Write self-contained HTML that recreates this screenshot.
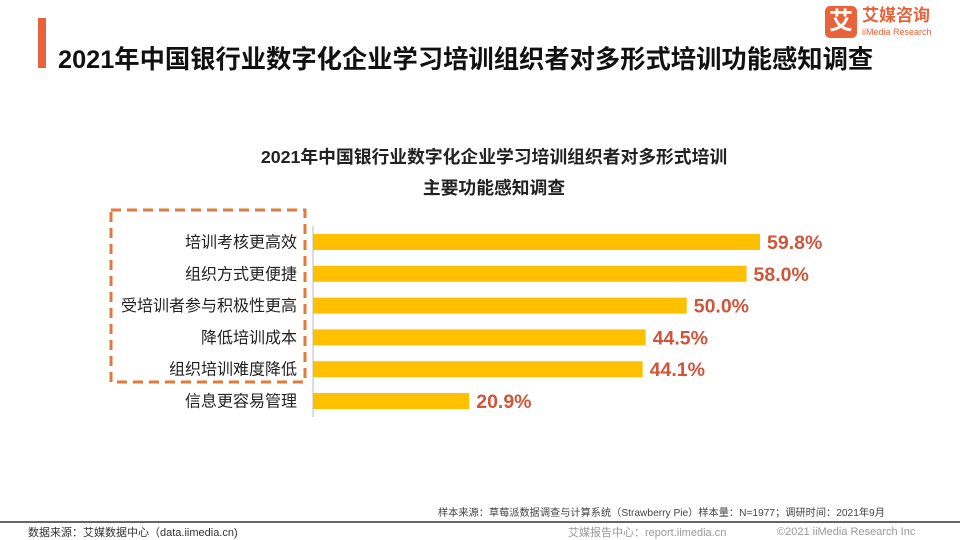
<!DOCTYPE html>
<html><head><meta charset="utf-8"><style>
body{margin:0;width:960px;height:540px;background:#fff;position:relative;overflow:hidden;font-family:"Liberation Sans","Noto Sans CJK SC",sans-serif}
.a{position:absolute;white-space:nowrap}
</style></head><body>
<div class="a" style="left:38px;top:18px;width:8px;height:50px;background:#E8633A"></div>
<div class="a" style="left:58px;top:45px;font-size:25.3px;font-weight:bold;color:#111;line-height:30px">2021年中国银行业数字化企业学习培训组织者对多形式培训功能感知调查</div>
<div class="a" style="left:825px;top:6px;width:32px;height:32px;background:#E8633A;border-radius:5px;color:#fff;font-size:24px;font-weight:bold;text-align:center;line-height:32px">艾</div>
<div class="a" style="left:862px;top:6px;color:#E8633A;font-size:17px;font-weight:bold;line-height:20px">艾媒咨询</div>
<div class="a" style="left:862px;top:27px;color:#E8633A;font-size:9px;line-height:10px">iiMedia Research</div>
<div class="a" style="left:0;width:988px;top:142px;text-align:center;font-size:17.8px;font-weight:bold;color:#222;line-height:31px">2021年中国银行业数字化企业学习培训组织者对多形式培训<br>主要功能感知调查</div>
<svg class="a" style="left:0;top:0" width="960" height="540" id="chart">
<rect x="111" y="210" width="194" height="172" fill="none" stroke="#E07B39" stroke-width="3" stroke-dasharray="10,6"/>
<line x1="313" y1="226" x2="313" y2="417" stroke="#bbb"/>
</svg>
<div class="a" style="left:438px;top:504px;font-size:10.2px;color:#444">样本来源：草莓派数据调查与计算系统（Strawberry Pie）样本量：N=1977；调研时间：2021年9月</div>
<div class="a" style="left:0;top:521px;width:960px;height:2px;background:#666"></div>
<div class="a" style="left:28px;top:524px;font-size:11px;color:#333">数据来源：艾媒数据中心（data.iimedia.cn)</div>
<div class="a" style="left:568px;top:524px;font-size:11px;color:#999">艾媒报告中心：report.iimedia.cn</div>
<div class="a" style="left:777px;top:526px;font-size:11px;color:#999">©2021  iiMedia Research  Inc</div>
<script>
const categories=["培训考核更高效","组织方式更便捷","受培训者参与积极性更高","降低培训成本","组织培训难度降低","信息更容易管理"];
const values=[59.8,58.0,50.0,44.5,44.1,20.9];
const svg=document.getElementById('chart');
const NS='http://www.w3.org/2000/svg';
const x0=313,scale=447/59.8;
function xw(v){return v*scale;}
function yc(i){return 242+i*31.8;}
categories.forEach((c,i)=>{
 const r=document.createElementNS(NS,'rect');
 r.setAttribute('x',x0);r.setAttribute('y',yc(i)-8);r.setAttribute('width',xw(values[i]));r.setAttribute('height',16);r.setAttribute('fill','#FFC000');
 
 
 svg.appendChild(r);
 const t=document.createElementNS(NS,'text');
 t.setAttribute('x',297);t.setAttribute('y',yc(i)+5.5);t.setAttribute('text-anchor','end');t.setAttribute('font-size','16');t.setAttribute('fill','#222');t.textContent=c;
 
 
 svg.appendChild(t);
 const v=document.createElementNS(NS,'text');
 v.setAttribute('x',x0+xw(values[i])+7);v.setAttribute('y',yc(i)+7);v.setAttribute('font-size','19.5');v.setAttribute('font-weight','bold');v.setAttribute('fill','#D0553A');v.textContent=values[i].toFixed(1)+'%';
 
 
 svg.appendChild(v);
});
</script>
</body></html>
